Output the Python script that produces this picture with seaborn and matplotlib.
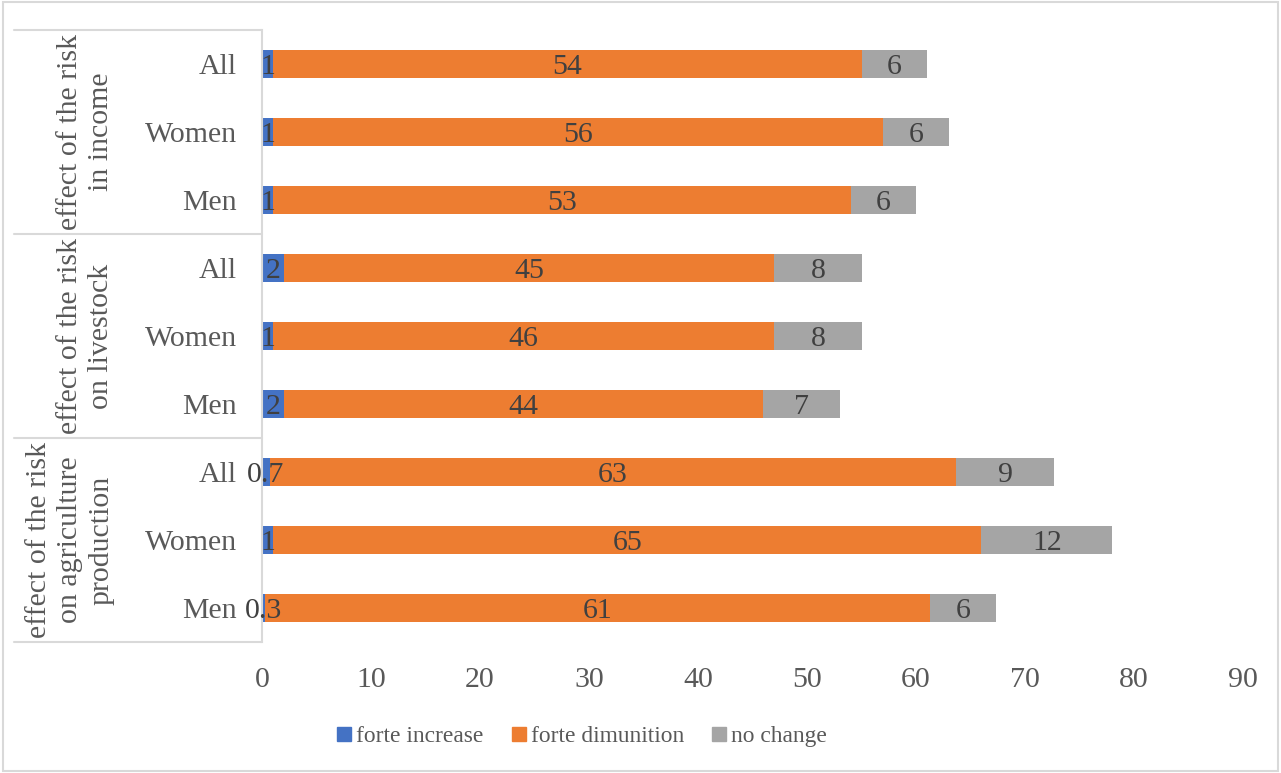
import matplotlib
matplotlib.use("Agg")
import matplotlib.pyplot as plt
import matplotlib.transforms as mtransforms
from matplotlib.patches import Rectangle
from matplotlib.lines import Line2D
import seaborn as sns
import numpy as np
import pandas as pd

# ---- data ----
groups = ["effect of the risk\nin income",
          "effect of the risk\non livestock",
          "effect of the risk\non agriculture\nproduction"]
subcats = ["All", "Women", "Men"]
series_names = ["forte increase", "forte dimunition", "no change"]
increase = [1, 1, 1, 2, 1, 2, 0.7, 1, 0.3]
dimunition = [54, 56, 53, 45, 46, 44, 63, 65, 61]
no_change = [6, 6, 6, 8, 8, 7, 9, 12, 6]
x_ticks = [0, 10, 20, 30, 40, 50, 60, 70, 80, 90]

colors = ["#4472C4", "#ED7D31", "#A5A5A5"]
label_color = "#404040"
tick_color = "#595959"
line_color = "#D9D9D9"

sns.set_style("white")
plt.rcParams["font.family"] = ["Liberation Serif", "DejaVu Serif"]

row_ids = [f"r{i}" for i in range(len(increase))]
row_labels = subcats * len(groups)

inc = np.array(increase, dtype=float)
dim = np.array(dimunition, dtype=float)
noc = np.array(no_change, dtype=float)
cum1 = inc
cum2 = inc + dim
cum3 = inc + dim + noc

df = pd.DataFrame({"row": row_ids, "c1": cum1, "c2": cum2, "c3": cum3})

fig = plt.figure(figsize=(12.81, 7.73), dpi=100)
ax = fig.add_axes([262 / 1281, 131 / 773, 981 / 1281, 612 / 773])

for col, c in zip(["c3", "c2", "c1"], [colors[2], colors[1], colors[0]]):
    sns.barplot(data=df, x=col, y="row", order=row_ids, color=c, orient="h",
                width=0.41, saturation=1, ax=ax, linewidth=0)

# data labels centered in segments
starts = [np.zeros_like(inc), cum1, cum2]
vals = [inc, dim, noc]
for s, v in zip(starts, vals):
    for i in range(len(v)):
        txt = f"{v[i]:g}"
        ax.text(s[i] + v[i] / 2, i, txt, ha="center", va="center_baseline",
                fontsize=21.5, color=label_color)

ax.set_xlim(0, 90)
ax.set_ylim(len(row_ids) - 0.5, -0.5)
ax.set_xticks(x_ticks)
ax.set_xticklabels([str(t) for t in x_ticks], fontsize=21.5, color=tick_color)
ax.set_yticks(range(len(row_ids)))
ax.set_yticklabels(row_labels, fontsize=21.5, color=tick_color)
ax.tick_params(axis="y", length=0, pad=18)
ax.tick_params(axis="x", length=0, pad=18)
ax.set_xlabel("")
ax.set_ylabel("")
for sp in ["top", "right", "bottom"]:
    ax.spines[sp].set_visible(False)
ax.spines["left"].set_color(line_color)
ax.spines["left"].set_linewidth(1.5)

# multi-level category separators
blend = mtransforms.blended_transform_factory(ax.transAxes, ax.transData)
x0 = (14 - 262) / 981
for yb in [-0.5, 2.5, 5.5, 8.5]:
    ax.add_line(Line2D([x0, 0], [yb, yb], transform=blend, color=line_color,
                       linewidth=1.5, clip_on=False))

# group labels
blend_fig = mtransforms.blended_transform_factory(fig.transFigure, ax.transData)
for gi, g in enumerate(groups):
    ax.text(114 / 1281, gi * 3 + 1, g, transform=blend_fig, rotation=90,
            ha="right", va="center", multialignment="center",
            fontsize=21.5, color=tick_color, linespacing=1.25)

# legend
handles = [Line2D([], [], marker="s", linestyle="none", markersize=10,
                  markerfacecolor=c, markeredgecolor=c) for c in colors]
fig.legend(handles, series_names, loc="center", bbox_to_anchor=(582 / 1281, 37 / 773),
           ncol=3, frameon=False, fontsize=16.9, handlelength=0.62,
           handletextpad=0.2, columnspacing=1.2, labelcolor=tick_color)

# outer chart border
fig.patches.append(Rectangle((0.002, 0.003), 0.996, 0.994, transform=fig.transFigure,
                             fill=False, edgecolor=line_color, linewidth=1.5))

fig.savefig("out.png", dpi=100)
